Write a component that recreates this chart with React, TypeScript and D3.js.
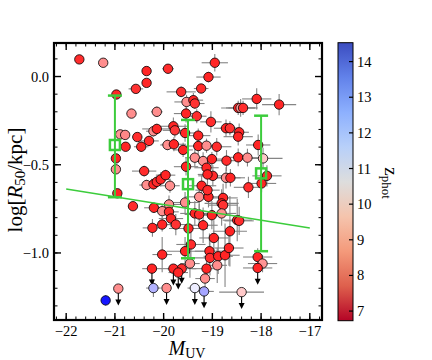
import React from "react";
import * as d3 from "d3";

// ---- data ----
const mUV = [
  -21.73, -21.24, -20.35, -19.91, -20.35, -20.57, -20.97, -19.64, -18.95, -19.08,
  -19.23, -19.53, -19.39, -19.36, -19.54, -19.32, -19.8, -19.77, -19.56, -19.29,
  -19.03, -18.72, -18.64, -18.45, -18.47, -18.42, -18.37, -18.09, -17.63, -20.66,
  -20.14, -20.89, -20.79, -20.21, -20.14, -20.54, -20.78, -20.98, -20.98, -20.95,
  -20.63, -20.46, -20.3, -19.92, -19.79, -20.4, -20.35, -20.21, -20.14, -20.06,
  -19.96, -19.87, -19.89, -20.2, -20.03, -19.89, -19.85, -20.03, -19.75, -20.23,
  -19.6, -19.29, -19.12, -18.91, -18.47, -18.06, -19.36, -19.19, -19.01, -18.71,
  -18.47, -18.28, -17.96, -19.54, -19.12, -18.99, -19.1, -18.72, -18.63, -17.88,
  -17.99, -18.26, -19.22, -19.27, -19.08, -19.1, -18.78, -18.81, -18.78, -19.56,
  -19.36, -19.27, -19.01, -18.81, -18.49, -18.45, -19.19, -19.49, -18.64, -18.97,
  -19.44, -19.56, -19.06, -19.05, -18.88, -18.74, -18.66, -18.9, -19.12, -19.46,
  -19.63, -19.8, -19.7, -19.15, -19.36, -19.17, -18.4, -18.07, -17.97, -18.07,
  -21.19, -20.93, -20.24, -20.21, -19.94, -20.03,
];
const logR50 = [
  0.097, 0.078, 0.031, 0.044, -0.036, -0.07, -0.102, -0.087, 0.078, -0.003,
  -0.068, -0.144, -0.134, -0.153, -0.21, -0.225, -0.282, -0.305, -0.32, -0.335,
  -0.257, -0.293, -0.293, -0.316, -0.178, -0.178, -0.178, -0.127, -0.159, -0.21,
  -0.2, -0.328, -0.331, -0.31, -0.297, -0.343, -0.398, -0.464, -0.526, -0.662,
  -0.735, -0.398, -0.365, -0.388, -0.384, -0.536, -0.615, -0.611, -0.597, -0.583,
  -0.559, -0.619, -0.725, -0.744, -0.763, -0.767, -0.805, -0.839, -0.839, -0.858,
  -0.416, -0.394, -0.392, -0.398, -0.341, -0.388, -0.46, -0.479, -0.468, -0.477,
  -0.458, -0.46, -0.464, -0.511, -0.517, -0.563, -0.555, -0.574, -0.574, -0.563,
  -0.606, -0.628, -0.619, -0.682, -0.682, -0.644, -0.688, -0.719, -0.729, -0.714,
  -0.776, -0.782, -0.786, -0.776, -0.814, -0.818, -0.843, -0.861, -0.877, -0.915,
  -0.952, -0.99, -0.99, -1.028, -1.019, -1.013, -0.972, -1.07, -1.089, -1.06,
  -1.089, -1.089, -1.111, -1.145, -1.199, -1.218, -1.222, -1.023, -1.06, -1.085,
  -1.269, -1.202, -1.089, -1.199, -1.199, -1.009,
];
const zPhot = [
  7.4, 8.9, 7.3, 7.4, 7.3, 7.5, 7.3, 7.4, 7.3, 7.3,
  7.4, 8.9, 7.3, 7.5, 7.3, 7.4, 7.3, 7.6, 7.3, 7.3,
  7.4, 7.3, 7.5, 7.3, 7.3, 9.2, 7.4, 7.3, 7.3, 8.9,
  8.9, 9.0, 8.8, 8.9, 7.3, 7.4, 7.3, 7.3, 8.9, 7.3,
  7.4, 7.3, 7.4, 8.9, 7.3, 7.4, 8.9, 7.3, 7.4, 7.3,
  7.3, 8.9, 8.9, 7.3, 8.9, 7.4, 7.3, 7.3, 7.5, 7.3,
  7.3, 7.3, 8.9, 7.4, 7.3, 7.3, 8.9, 8.9, 7.3, 7.4,
  7.3, 8.9, 9.8, 7.3, 7.3, 7.4, 7.3, 8.9, 7.3, 7.3,
  7.3, 7.4, 7.3, 8.9, 7.3, 7.4, 7.3, 7.3, 7.5, 8.9,
  7.3, 7.4, 7.3, 8.9, 7.3, 7.4, 7.3, 7.3, 7.3, 7.3,
  7.4, 7.3, 7.3, 7.4, 7.3, 7.3, 7.3, 8.9, 7.3, 8.9,
  7.4, 7.3, 7.3, 8.9, 10.9, 12.0, 9.8, 7.3, 9.0, 7.3,
  14.2, 8.9, 7.3, 11.8, 8.9, 7.3,
];
const mUVErr = [
  0, 0, 0.08, 0.12, 0.08, 0.15, 0.05, 0.3, 0.27, 0.25,
  0.15, 0.25, 0.2, 0.2, 0.25, 0.2, 0.3, 0.25, 0.2, 0.25,
  0.22, 0.25, 0.2, 0.2, 0.35, 0.3, 0.3, 0.3, 0.35, 0.1,
  0.12, 0.08, 0.08, 0.15, 0.3, 0.1, 0.08, 0.05, 0.05, 0.06,
  0.1, 0.15, 0.2, 0.15, 0.25, 0.25, 0.15, 0.12, 0.15, 0.2,
  0.2, 0.2, 0.3, 0.2, 0.2, 0.2, 0.25, 0.25, 0.25, 0.2,
  0.2, 0.25, 0.25, 0.3, 0.3, 0.25, 0.2, 0.25, 0.25, 0.3,
  0.25, 0.3, 0.4, 0.25, 0.25, 0.3, 0.2, 0.3, 0.3, 0.3,
  0.3, 0.3, 0.3, 0.3, 0.3, 0.25, 0.3, 0.35, 0.3, 0.3,
  0.3, 0.3, 0.35, 0.3, 0.3, 0.3, 0.3, 0.4, 0.35, 0.3,
  0.3, 0.38, 0.3, 0.35, 0.3, 0.3, 0.3, 0.2, 0.3, 0.2,
  0.3, 0.25, 0.2, 0.2, 0.15, 0.2, 0.46, 0.3, 0.3, 0.3,
  0.03, 0.05, 0.2, 0.15, 0.1, 0.2,
];
const logR50Err = [
  0, 0, 0.02, 0.02, 0.02, 0.02, 0.01, 0.03, 0.05, 0.03,
  0.02, 0.04, 0.04, 0.03, 0.05, 0.04, 0.05, 0.04, 0.05, 0.04,
  0.06, 0.05, 0.04, 0.05, 0.04, 0.05, 0.04, 0.06, 0.06, 0.02,
  0.03, 0.02, 0.02, 0.03, 0.03, 0.02, 0.02, 0.02, 0.02, 0.02,
  0.02, 0.03, 0.03, 0.03, 0.04, 0.03, 0.03, 0.03, 0.03, 0.04,
  0.03, 0.04, 0.05, 0.03, 0.04, 0.05, 0.05, 0.04, 0.06, 0.05,
  0.04, 0.05, 0.04, 0.05, 0.05, 0.06, 0.05, 0.05, 0.04, 0.06,
  0.05, 0.05, 0.06, 0.05, 0.05, 0.06, 0.05, 0.06, 0.05, 0.06,
  0.05, 0.06, 0.06, 0.07, 0.06, 0.05, 0.08, 0.08, 0.07, 0.06,
  0.07, 0.06, 0.08, 0.07, 0.12, 0.08, 0.1, 0.1, 0.2, 0.1,
  0.1, 0.08, 0.1, 0.1, 0.1, 0.18, 0.1, 0.1, 0.08, 0.08,
  0.08, 0.09, 0.09, 0.06, 0.09, 0.09, 0.09, 0.05, 0.05, 0.09,
  0.03, 0.09, 0.09, 0.05, 0.09, 0.1,
];
const upperLimit = [
  0, 0, 0, 0, 0, 0, 0, 0, 0, 0,
  0, 0, 0, 0, 0, 0, 0, 0, 0, 0,
  0, 0, 0, 0, 0, 0, 0, 0, 0, 0,
  0, 0, 0, 0, 0, 0, 0, 0, 0, 0,
  0, 0, 0, 0, 0, 0, 0, 0, 0, 0,
  0, 0, 0, 0, 0, 0, 0, 0, 0, 0,
  0, 0, 0, 0, 0, 0, 0, 0, 0, 0,
  0, 0, 0, 0, 0, 0, 0, 0, 0, 0,
  0, 0, 0, 0, 0, 0, 0, 0, 0, 0,
  0, 0, 0, 0, 0, 0, 0, 0, 0, 0,
  0, 0, 0, 0, 0, 0, 0, 0, 0, 0,
  1, 1, 1, 0, 1, 1, 1, 0, 0, 1,
  0, 1, 1, 0, 1, 0,
];

const binM = [-21, -19.5, -18];
const binR = [-0.388, -0.61, -0.549];
const binLo = [-0.684, -1.03, -0.99];
const binHi = [-0.108, -0.246, -0.222];

const fitM = [-22, -17];
const fitR = [-0.638, -0.858];

const xTicks = [-22, -21, -20, -19, -18, -17];
const yTicks = [0, -0.5, -1.0];
const zTicks = [7, 8, 9, 10, 11, 12, 13, 14];

const zMin = 6.73;
const zMax = 14.53;

// ---- layout ----
const W = 432, H = 360;
const L = 54, R = 322, T = 43, B = 320;
const CBL = 338, CBR = 353, CBT = 42.7, CBB = 320.7;
const GREEN = "#3ccc3c";
const FONT = "'Liberation Serif', 'DejaVu Serif', serif";

const x = d3.scaleLinear().domain([-22.25, -16.75]).range([L, R]);
const y = d3.scaleLinear().domain([-1.38, 0.19]).range([B, T]);
const zs = d3.scaleLinear().domain([zMin, zMax]).range([CBB, CBT]);

// bwr_r for points
const pointColor = (z: number) => {
  const t = Math.max(0, Math.min(1, (z - zMin) / (zMax - zMin)));
  if (t < 0.5) {
    const v = Math.round(510 * t);
    return d3.rgb(255, v, v).formatHex();
  }
  const v = Math.round(255 * (2 - 2 * t));
  return d3.rgb(v, v, 255).formatHex();
};

// coolwarm stops (low -> high)
const coolwarm = [
  "#b40426", "#de604d", "#f49a7b", "#f5c4ad", "#dddddd",
  "#b8d0f9", "#8db0fe", "#6282ea", "#3b4cc0",
];

const fmt = (v: number) => (v < 0 ? "\u2212" : "") + Math.abs(v).toFixed(1);
const fmtX = (v: number) => (v < 0 ? "\u2212" : "") + Math.abs(v).toString();

export default function App() {
  const idx = d3.range(mUV.length);
  const xMinor = d3.range(-22.2, -16.7, 0.2).map((v) => +v.toFixed(2));
  const yMinor = d3.range(-1.3, 0.15, 0.1).map((v) => +v.toFixed(2));
  const line = d3.line<number>().x((_, i) => x(fitM[i])).y((v) => y(v));

  return (
    <svg width={W} height={H} style={{ position: "fixed", left: 0, top: 0, background: "#fff" }}
      fontFamily={FONT}>
      <defs>
        <linearGradient id="cb" x1="0" y1="1" x2="0" y2="0">
          {coolwarm.map((c, i) => (
            <stop key={i} offset={i / (coolwarm.length - 1)} stopColor={c} />
          ))}
        </linearGradient>
        <clipPath id="plot"><rect x={L} y={T} width={R - L} height={B - T} /></clipPath>
      </defs>

      <g clipPath="url(#plot)">
        {/* error bars */}
        {idx.map((i) => {
          const cx = x(mUV[i]), cy = y(logR50[i]);
          return (
            <g key={"e" + i} stroke="#858585" strokeWidth={1.1}>
              {mUVErr[i] > 0 && (
                <line x1={x(mUV[i] - mUVErr[i])} x2={x(mUV[i] + mUVErr[i])} y1={cy} y2={cy} />
              )}
              {!upperLimit[i] && logR50Err[i] > 0 && (
                <line x1={cx} x2={cx} y1={y(logR50[i] - logR50Err[i])} y2={y(logR50[i] + logR50Err[i])} />
              )}
            </g>
          );
        })}
        {/* upper-limit arrows */}
        {idx.filter((i) => upperLimit[i]).map((i) => {
          const cx = x(mUV[i]), cy = y(logR50[i]);
          const ey = y(logR50[i] - logR50Err[i]);
          return (
            <g key={"a" + i}>
              <line x1={cx} x2={cx} y1={cy} y2={ey - 3} stroke="#000" strokeWidth={1.1} />
              <path d={`M${cx - 3},${ey - 5} L${cx + 3},${ey - 5} L${cx},${ey + 1} Z`} fill="#000" />
            </g>
          );
        })}
        {/* points */}
        {idx.map((i) => (
          <circle key={"p" + i} cx={x(mUV[i])} cy={y(logR50[i])} r={4.7}
            fill={pointColor(zPhot[i])} stroke="#000" strokeWidth={0.8} />
        ))}
        {/* fit line */}
        <path d={line(fitR) || ""} fill="none" stroke={GREEN} strokeWidth={1.5} />
        {/* binned medians */}
        {binM.map((m, i) => {
          const cx = x(m);
          return (
            <g key={"b" + i} stroke={GREEN} strokeWidth={2} fill="none">
              <line x1={cx} x2={cx} y1={y(binLo[i])} y2={y(binHi[i])} />
              <line x1={cx - 7} x2={cx + 7} y1={y(binLo[i])} y2={y(binLo[i])} strokeWidth={2.5} />
              <line x1={cx - 7} x2={cx + 7} y1={y(binHi[i])} y2={y(binHi[i])} strokeWidth={2.5} />
              <rect x={cx - 5} y={y(binR[i]) - 5} width={10} height={10} strokeWidth={2.5} />
            </g>
          );
        })}
      </g>

      {/* ticks */}
      <g stroke="#000">
        {xTicks.map((t) => (
          <g key={"xt" + t} strokeWidth={1.4}>
            <line x1={x(t)} x2={x(t)} y1={B} y2={B - 7} />
            <line x1={x(t)} x2={x(t)} y1={T} y2={T + 7} />
          </g>
        ))}
        {xMinor.map((t) => (
          <g key={"xm" + t} strokeWidth={1}>
            <line x1={x(t)} x2={x(t)} y1={B} y2={B - 3.5} />
            <line x1={x(t)} x2={x(t)} y1={T} y2={T + 3.5} />
          </g>
        ))}
        {yTicks.map((t) => (
          <g key={"yt" + t} strokeWidth={1.4}>
            <line x1={L} x2={L + 7} y1={y(t)} y2={y(t)} />
            <line x1={R} x2={R - 7} y1={y(t)} y2={y(t)} />
          </g>
        ))}
        {yMinor.map((t) => (
          <g key={"ym" + t} strokeWidth={1}>
            <line x1={L} x2={L + 3.5} y1={y(t)} y2={y(t)} />
            <line x1={R} x2={R - 3.5} y1={y(t)} y2={y(t)} />
          </g>
        ))}
      </g>
      <rect x={L} y={T} width={R - L} height={B - T} fill="none" stroke="#000" strokeWidth={2.2} />

      {/* tick labels */}
      {xTicks.map((t) => (
        <text key={"xl" + t} x={x(t)} y={336} textAnchor="middle" fontSize={14.5}>{fmtX(t)}</text>
      ))}
      {yTicks.map((t) => (
        <text key={"yl" + t} x={49} y={y(t) + 5} textAnchor="end" fontSize={14.5}>{fmt(t)}</text>
      ))}

      {/* axis labels */}
      <text x={187} y={355} textAnchor="middle" fontSize={20}>
        <tspan fontStyle="italic">M</tspan>
        <tspan fontSize={14} dy={3}>UV</tspan>
      </text>
      <text transform="translate(22,180) rotate(-90)" textAnchor="middle" fontSize={21}>
        <tspan>log[</tspan>
        <tspan fontStyle="italic">R</tspan>
        <tspan fontSize={15} dy={3}>50</tspan>
        <tspan dy={-3}>/kpc]</tspan>
      </text>

      {/* colorbar */}
      <rect x={CBL} y={CBT} width={CBR - CBL} height={CBB - CBT} fill="url(#cb)" stroke="#000" strokeWidth={1} />
      {zTicks.map((t) => (
        <g key={"zt" + t}>
          <line x1={CBR} x2={CBR - 4} y1={zs(t)} y2={zs(t)} stroke="#000" strokeWidth={1.2} />
          <text x={357} y={zs(t) + 5} fontSize={14.5}>{t}</text>
        </g>
      ))}
      <text transform="translate(385,183) rotate(90)" textAnchor="middle" fontSize={19}>
        <tspan>z</tspan>
        <tspan fontSize={13} dy={3}>phot</tspan>
      </text>
    </svg>
  );
}
